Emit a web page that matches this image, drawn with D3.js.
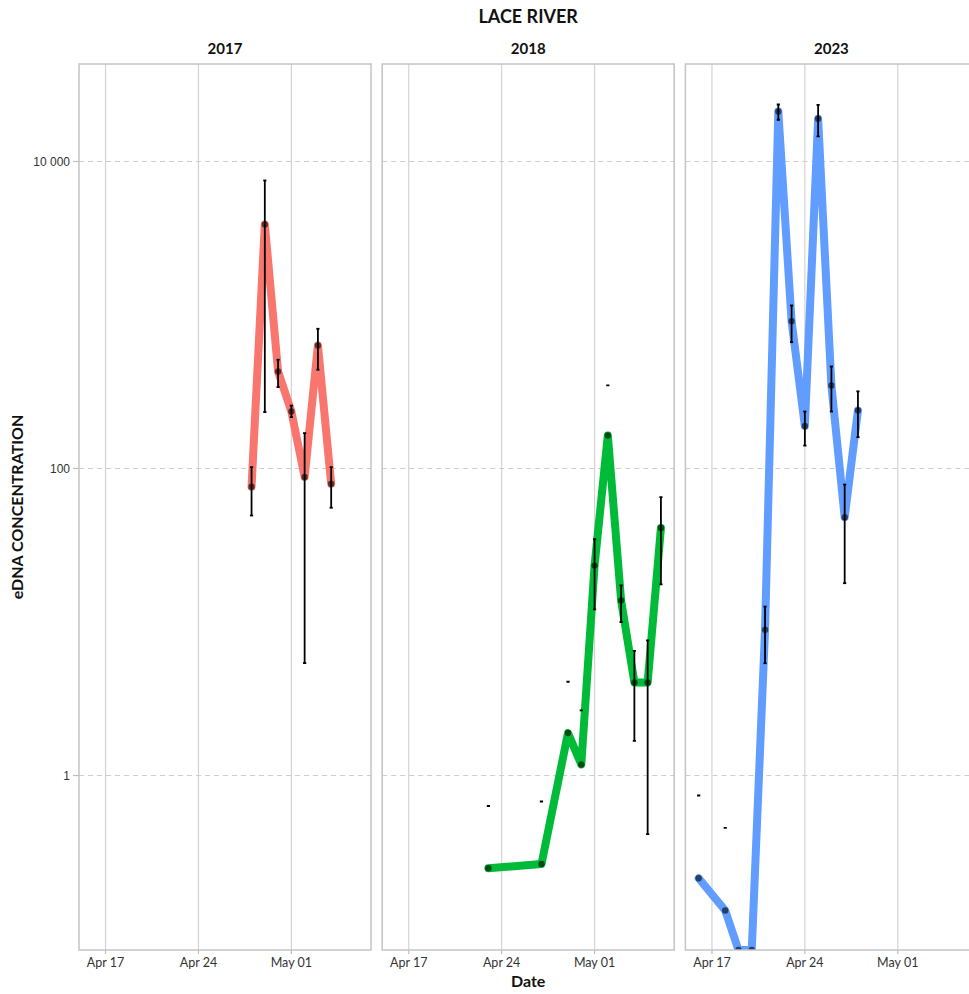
<!DOCTYPE html>
<html>
<head>
<meta charset="utf-8">
<script src="https://cdn.jsdelivr.net/npm/d3@7"></script>
<style>
  html, body { margin: 0; padding: 0; background: #fff; }
  svg { display: block; }
</style>
</head>
<body>
<svg id="chart" width="969" height="994"></svg>
<script>
// ---- data ----------------------------------------------------------------
const years = ["2017", "2018", "2023"];
const seriesColors = ["#F8766D", "#00BA38", "#619CFF"];

// sampling dates (month-day) per year
const dates2017 = ["04-28", "04-29", "04-30", "05-01", "05-02", "05-03", "05-04"];
const dates2018 = ["04-23", "04-27", "04-29", "04-30", "05-01", "05-02", "05-03", "05-04", "05-05", "05-06"];
const dates2023 = ["04-16", "04-18", "04-19", "04-20", "04-21", "04-22", "04-23", "04-24", "04-25", "04-26", "04-27", "04-28"];

// mean eDNA concentration
const values2017 = [76, 3890, 428, 235, 88, 633, 79.5];
const values2018 = [0.249, 0.265, 1.89, 1.18, 23.3, 164, 13.8, 4.04, 4.04, 41.0];
const values2023 = [0.214, 0.132, 0, 0, 8.9, 21170, 911, 189, 18970, 347, 48.2, 239];

// error bar bounds (null = bound not drawable on a log axis)
const lower2017 = [49.4, 233, 339, 216, 5.4, 440, 55.5];
const upper2017 = [102, 7520, 511, 257, 170, 813, 102];
const lower2018 = [null, null, null, null, 12.1, null, 10.0, 1.68, 0.415, 17.6];
const upper2018 = [0.633, 0.677, 4.08, 2.66, 34.6, 348, 17.3, 6.48, 7.6, 65.1];
const lower2023 = [null, null, null, null, 5.39, 18700, 665, 141, 14550, 235, 17.9, 160];
const upper2023 = [0.741, 0.456, null, null, 12.6, 23500, 1153, 235, 23400, 462, 78.6, 318];

const yTicks = [1, 100, 10000];
const yTickLabels = ["1", "100", "10 000"];
const xTicks = ["04-17", "04-24", "05-01"];
const xTickLabels = ["Apr 17", "Apr 24", "May 01"];
const xDomain = ["04-15", "05-07"];
const yDomain = [0.073, 43150];

const chartTitle = "LACE RIVER";
const xTitle = "Date";
const yTitle = "eDNA CONCENTRATION";

// ---- layout --------------------------------------------------------------
const panelLeft = 79, panelStep = 303.2, panelW = 292;
const panelTop = 64, panelBottom = 950;

const svg = d3.select("#chart");
const parseMD = (year, md) => d3.timeParse("%Y-%m-%d")(year + "-" + md);

const panels = [
  { year: years[0], dates: dates2017, values: values2017, lower: lower2017, upper: upper2017, color: seriesColors[0] },
  { year: years[1], dates: dates2018, values: values2018, lower: lower2018, upper: upper2018, color: seriesColors[1] },
  { year: years[2], dates: dates2023, values: values2023, lower: lower2023, upper: upper2023, color: seriesColors[2] }
];

const y = d3.scaleLog().domain(yDomain).range([panelBottom, panelTop]).clamp(true);

const fontText = "Lato, 'Open Sans', sans-serif";

// title
svg.append("text")
  .attr("x", panelLeft + (panelStep * 2 + panelW) / 2)
  .attr("y", 23)
  .attr("text-anchor", "middle")
  .style("font-family", fontText)
  .style("font-weight", 700)
  .style("font-size", "18px")
  .attr("fill", "#111")
  .text(chartTitle);

// y tick labels & ticks (left of first panel)
const yAxisG = svg.append("g");
yTicks.forEach((t, i) => {
  yAxisG.append("text")
    .attr("x", panelLeft - 9)
    .attr("y", y(t))
    .attr("dy", "0.35em")
    .attr("text-anchor", "end")
    .style("font-family", "'Liberation Sans', Arial, sans-serif")
    .style("font-size", "12px")
    .attr("fill", "#333")
    .text(yTickLabels[i]);
  yAxisG.append("line")
    .attr("x1", panelLeft - 6).attr("x2", panelLeft)
    .attr("y1", y(t)).attr("y2", y(t))
    .attr("stroke", "#bdbdbd").attr("stroke-width", 1.2);
});

// y axis title
svg.append("text")
  .attr("transform", `translate(23,${(panelTop + panelBottom) / 2}) rotate(-90)`)
  .attr("text-anchor", "middle")
  .style("font-family", fontText)
  .style("font-weight", 700)
  .style("font-size", "16px")
  .attr("fill", "#111")
  .text(yTitle);

// x axis title
svg.append("text")
  .attr("x", panelLeft + (panelStep * 2 + panelW) / 2)
  .attr("y", 987)
  .attr("text-anchor", "middle")
  .style("font-family", fontText)
  .style("font-weight", 700)
  .style("font-size", "16px")
  .attr("fill", "#111")
  .text(xTitle);

panels.forEach((p, pi) => {
  const x0 = panelLeft + pi * panelStep;
  const x = d3.scaleTime()
    .domain(xDomain.map(md => parseMD(p.year, md)))
    .range([0, panelW]);

  const g = svg.append("g").attr("transform", `translate(${x0},0)`);

  // strip label
  g.append("text")
    .attr("x", panelW / 2)
    .attr("y", 54)
    .attr("text-anchor", "middle")
    .style("font-family", fontText)
    .style("font-weight", 700)
    .style("font-size", "15px")
    .attr("fill", "#111")
    .text(p.year);

  // vertical grid
  xTicks.forEach(md => {
    const xv = x(parseMD(p.year, md));
    g.append("line")
      .attr("x1", xv).attr("x2", xv)
      .attr("y1", panelTop).attr("y2", panelBottom)
      .attr("stroke", "#d3d3d3").attr("stroke-width", 1.2);
  });

  // horizontal dashed grid
  yTicks.forEach(t => {
    g.append("line")
      .attr("x1", 0).attr("x2", panelW)
      .attr("y1", y(t)).attr("y2", y(t))
      .attr("stroke", "#cdcdcd").attr("stroke-width", 1.2)
      .attr("stroke-dasharray", "5,4");
  });

  // x ticks + labels
  xTicks.forEach((md, i) => {
    const xv = x(parseMD(p.year, md));
    g.append("line")
      .attr("x1", xv).attr("x2", xv)
      .attr("y1", panelBottom).attr("y2", panelBottom + 4)
      .attr("stroke", "#bdbdbd").attr("stroke-width", 1.2);
    g.append("text")
      .attr("x", xv)
      .attr("y", 967)
      .attr("text-anchor", "middle")
      .style("font-family", fontText)
      .style("font-size", "12.5px")
      .attr("fill", "#333")
      .text(xTickLabels[i]);
  });

  // clip for data marks
  const clipId = "clip" + pi;
  g.append("clipPath").attr("id", clipId)
    .append("rect")
    .attr("x", 0).attr("y", panelTop)
    .attr("width", panelW).attr("height", panelBottom - panelTop);

  const data = p.dates.map((md, i) => ({
    date: parseMD(p.year, md),
    value: p.values[i],
    lo: p.lower[i],
    hi: p.upper[i]
  }));

  const marks = g.append("g").attr("clip-path", `url(#${clipId})`);

  const line = d3.line().x(d => x(d.date)).y(d => y(d.value));
  marks.append("path")
    .datum(data)
    .attr("d", line)
    .attr("fill", "none")
    .attr("stroke", p.color)
    .attr("stroke-width", 8)
    .attr("stroke-linejoin", "round")
    .attr("stroke-linecap", "round");

  // points
  marks.selectAll("circle.pt")
    .data(data)
    .join("circle")
    .attr("class", "pt")
    .attr("cx", d => x(d.date))
    .attr("cy", d => y(d.value))
    .attr("r", 3.2)
    .attr("fill", "#000")
    .attr("fill-opacity", 0.6);

  // error bars
  const cap = 1.6;
  const eb = marks.append("g")
    .attr("stroke", "#000")
    .attr("stroke-width", 1.8)
    .attr("fill", "none");
  data.forEach(d => {
    const xv = x(d.date);
    if (d.lo != null && d.hi != null) {
      eb.append("line")
        .attr("x1", xv).attr("x2", xv)
        .attr("y1", y(d.hi)).attr("y2", y(d.lo));
    }
    if (d.hi != null) {
      eb.append("line")
        .attr("x1", xv - cap).attr("x2", xv + cap)
        .attr("y1", y(d.hi)).attr("y2", y(d.hi));
    }
    if (d.lo != null) {
      eb.append("line")
        .attr("x1", xv - cap).attr("x2", xv + cap)
        .attr("y1", y(d.lo)).attr("y2", y(d.lo));
    }
  });

  // panel border
  g.append("rect")
    .attr("x", 0).attr("y", panelTop)
    .attr("width", panelW).attr("height", panelBottom - panelTop)
    .attr("fill", "none")
    .attr("stroke", "#c4c4c4")
    .attr("stroke-width", 1.5);
});
</script>
</body>
</html>
